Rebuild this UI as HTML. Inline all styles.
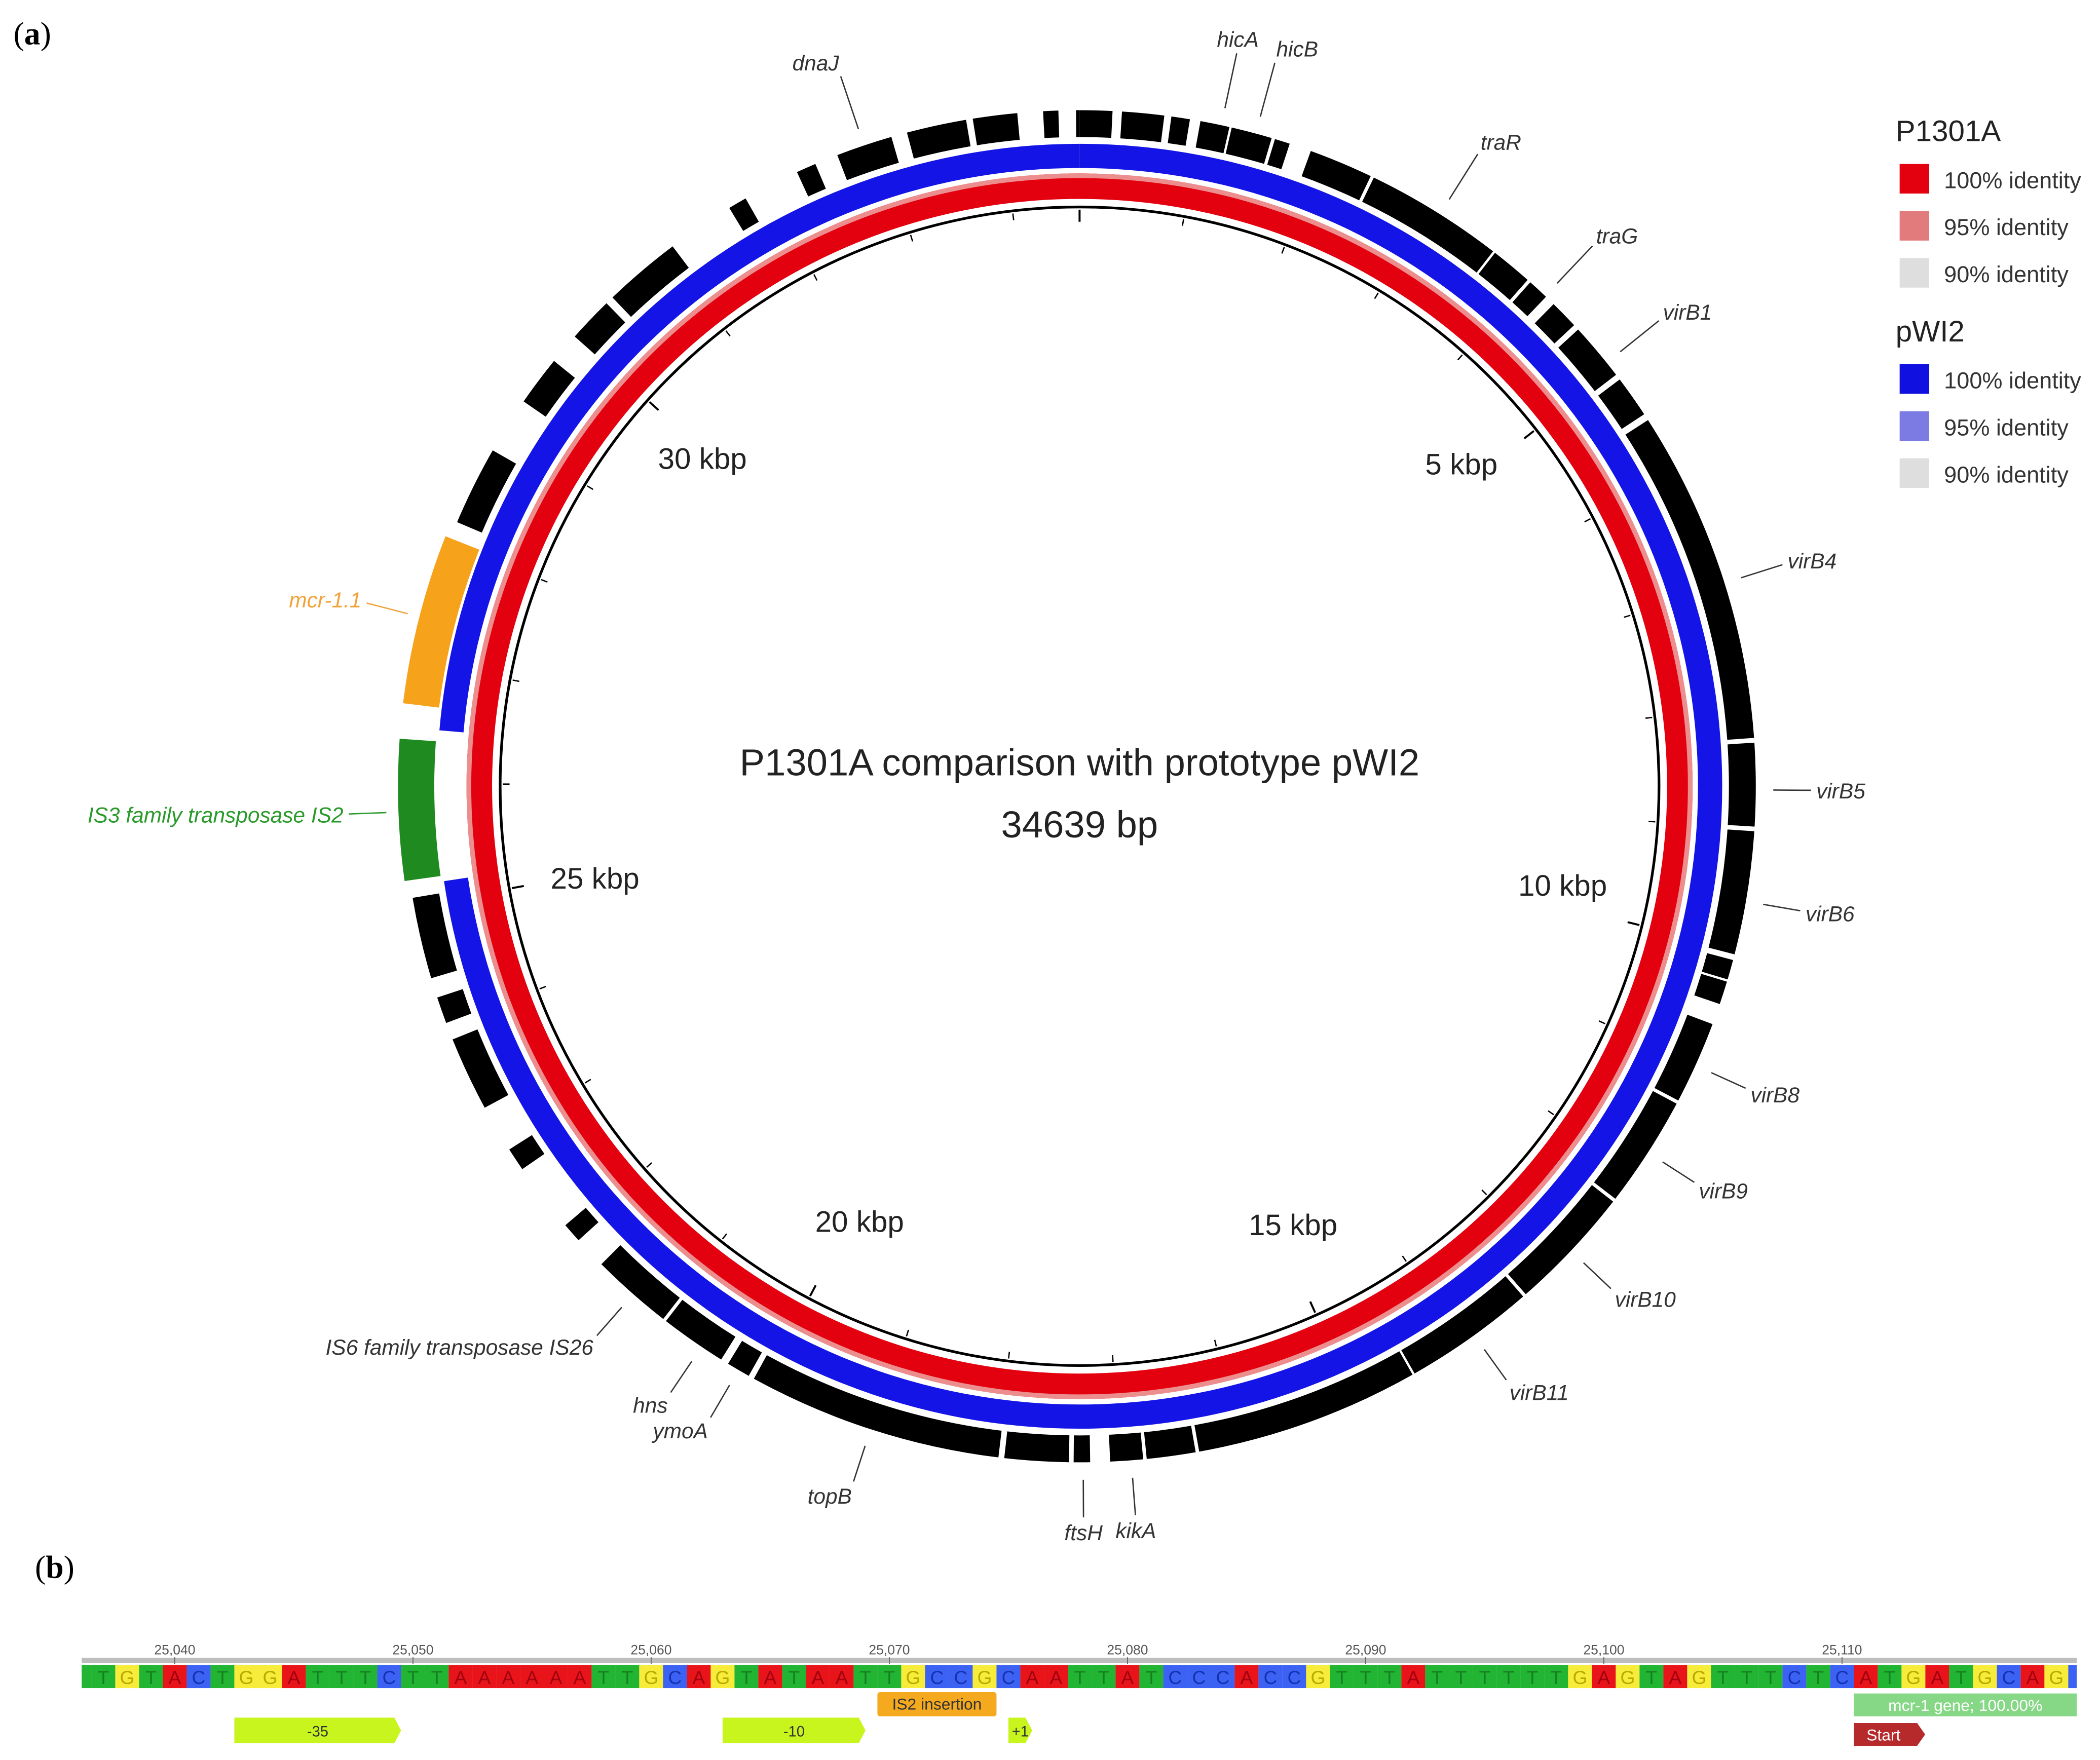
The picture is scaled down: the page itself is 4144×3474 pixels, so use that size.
<!DOCTYPE html>
<html><head><meta charset="utf-8"><style>
html,body{margin:0;padding:0;background:#fff;}
svg{display:block;}
text{font-family:"Liberation Sans",sans-serif;}
</style></head><body>
<svg id="fig" width="4144" height="3474" viewBox="0 0 1562 1309.5" xmlns="http://www.w3.org/2000/svg">
<text x="10" y="33" style="font-family:'Liberation Serif',serif;font-size:24px">(<tspan font-weight="bold">a</tspan>)</text>
<text x="26" y="1174" style="font-family:'Liberation Serif',serif;font-size:24px">(<tspan font-weight="bold">b</tspan>)</text>
<g id="plasmid"></g>
<g id="labels"></g>
<text x="803" y="577" text-anchor="middle" font-size="28" fill="#222">P1301A comparison with prototype pWI2</text>
<text x="803" y="623" text-anchor="middle" font-size="28" fill="#222">34639 bp</text>
<g id="legend">
<text x="1410" y="105" font-size="22" fill="#222">P1301A</text>
<rect x="1413" y="122" width="22" height="22" fill="#e3000f"/>
<text x="1446" y="140" font-size="17" fill="#333">100% identity</text>
<rect x="1413" y="157" width="22" height="22" fill="#e27b7b"/>
<text x="1446" y="175" font-size="17" fill="#333">95% identity</text>
<rect x="1413" y="192" width="22" height="22" fill="#dedede"/>
<text x="1446" y="210" font-size="17" fill="#333">90% identity</text>
<text x="1410" y="254" font-size="22" fill="#222">pWI2</text>
<rect x="1413" y="271" width="22" height="22" fill="#1010e0"/>
<text x="1446" y="289" font-size="17" fill="#333">100% identity</text>
<rect x="1413" y="306" width="22" height="22" fill="#7b7be3"/>
<text x="1446" y="324" font-size="17" fill="#333">95% identity</text>
<rect x="1413" y="341" width="22" height="22" fill="#dedede"/>
<text x="1446" y="359" font-size="17" fill="#333">90% identity</text>
</g>
<g id="seq"></g>
</svg>
<script>
const genomeLength = 34639;
const geneStarts = [0,346,751,991,1251,1616,1924,2482,3647,4022,4282,4570,5100,5504,8304,9027,10093,10276,10642,11354,12307,13375,14481,16368,16800,17233,17406,17983,20138,20399,20976,21920,22660,23247,24007,24392,25210,26653,28192,29318,29992,30435,31637,32262,32619,33216,33764,34341,34610];
const geneEnds =   [269,693,904,1232,1588,1742,2454,3627,3993,4196,4522,5052,5447,8265,8989,10045,10257,10468,11325,12278,13347,14462,16339,16771,17070,17368,17935,20090,20333,20948,21650,22083,22852,23863,24227,25065,26364,28050,28846,29731,30367,31079,31791,32426,33084,33709,34130,34466,34639];
const geneTypes = ['g','g','g','g','g','g','g','g','g','g','g','g','g','g','g','g','g','g','g','g','g','g','g','g','g','g','g','g','g','g','g','g','g','g','g','g','is2','mcr','g','g','g','g','g','g','g','g','g','g','g'];
const redStarts = [0];
const redEnds = [34639];
const blueStarts = [0, 26460];
const blueEnds = [25162, 34639];
const kbpTicks = [5000,10000,15000,20000,25000,30000];
const kbpLabels = ['5 kbp','10 kbp','15 kbp','20 kbp','25 kbp','30 kbp'];
const labelNames = ['dnaJ','hicA','hicB','traR','traG','virB1','virB4','virB5','virB6','virB8','virB9','virB10','virB11','kikA','ftsH','topB','ymoA','hns','IS6 family transposase IS26','IS3 family transposase IS2','mcr-1.1'];
const labelBp = [32850,1164,1453,3098,4186,4927,6976,8690,9603,11007,11816,12836,13885,16898,17290,19052,20235,20590,21293,25770,27366];

const CX=803, CY=585, NS='http://www.w3.org/2000/svg';
function ang(bp){return bp/genomeLength*2*Math.PI;}
function pt(bp,r){const a=ang(bp);return [CX+r*Math.sin(a), CY-r*Math.cos(a)];}
function arcPath(b0,b1,r0,r1){
  const p1=pt(b0,r1),p2=pt(b1,r1),p3=pt(b1,r0),p4=pt(b0,r0);
  const large=(b1-b0)/genomeLength>0.5?1:0;
  return `M${p1[0]},${p1[1]}A${r1},${r1} 0 ${large} 1 ${p2[0]},${p2[1]}L${p3[0]},${p3[1]}A${r0},${r0} 0 ${large} 0 ${p4[0]},${p4[1]}Z`;
}
function mk(tag,attrs,parent){const e=document.createElementNS(NS,tag);for(const k in attrs)e.setAttribute(k,attrs[k]);parent.appendChild(e);return e;}
const G=document.getElementById('plasmid');
let bb=mk('circle',{cx:CX,cy:CY,r:431,fill:'none',stroke:'#000','stroke-width':2},G);


for(let i=0;i<redStarts.length;i++){
  let p=mk('path',{d:arcPath(redStarts[i],redEnds[i]-0.01,437,456),fill:'#e3000f'},G);
  
  
  let q=mk('path',{d:arcPath(redStarts[i],redEnds[i]-0.01,452.5,456),fill:'#ec8e8e'},G);
  
  
}
for(let i=0;i<blueStarts.length;i++){
  let p=mk('path',{d:arcPath(blueStarts[i],blueEnds[i],460,478),fill:'#1414e6'},G);
  
  
}
for(let i=0;i<geneStarts.length;i++){
  const t=geneTypes[i];
  const col=t==='mcr'?'#f7a21b':(t==='is2'?'#1f8a1f':'#000');
  const r0=t==='g'?483:480, r1=t==='g'?503:507;
  let p=mk('path',{d:arcPath(geneStarts[i],geneEnds[i],r0,r1),fill:col},G);
  
  
}
for(let k=1000;k<genomeLength;k+=1000){
  const a=pt(k,429),b=pt(k,424);
  let l=mk('line',{x1:a[0],y1:a[1],x2:b[0],y2:b[1],stroke:'#000','stroke-width':1},G);
  
  
}
let t0=mk('line',{x1:CX,y1:CY-429,x2:CX,y2:CY-420,stroke:'#000','stroke-width':1.5},G);


for(let i=0;i<kbpTicks.length;i++){
  const a=pt(kbpTicks[i],429),b=pt(kbpTicks[i],420);
  let l=mk('line',{x1:a[0],y1:a[1],x2:b[0],y2:b[1],stroke:'#000','stroke-width':1.5},G);
  
  
  const c=pt(kbpTicks[i]-140,368);
  let tx=mk('text',{x:c[0],y:c[1]+2,'text-anchor':'middle','font-size':22,fill:'#222'},G);
  tx.textContent=kbpLabels[i];
  
  
}
const L=document.getElementById('labels');
for(let i=0;i<labelNames.length;i++){
  const cs=Math.cos(ang(labelBp[i]));
  const extra=Math.max(0,cs)*14;
  const a=pt(labelBp[i],516), b=pt(labelBp[i],544+extra), c=pt(labelBp[i],548+extra);
  const name=labelNames[i];
  const col=name==='mcr-1.1'?'#f2a23a':(name.startsWith('IS3')?'#2a9a2a':'#333');
  let l=mk('line',{x1:a[0],y1:a[1],x2:b[0],y2:b[1],stroke:col,'stroke-width':1},L);
  
  
  const s=Math.sin(ang(labelBp[i]));
  const anchor=s>0.25?'start':(s<-0.3?'end':'middle');
  const dy=-cs*7+6;
  let tx=mk('text',{x:c[0],y:c[1]+dy,'text-anchor':anchor,'font-size':16,'font-style':'italic',fill:col},L);
  tx.textContent=name;
  
  
}
const seqStart = 25036;
const bases = 'TTGTACTGGATTTCTTAAAAAATTGCAGTATAATTGCCGCAATTATCCCACCGTTTATTTTTTGAGTAGTTTCTCATGATGCAGC';
const posTicks = [25040,25050,25060,25070,25080,25090,25100,25110];
const featNames = ['-35','-10','+1'];
const featStarts = [25042.5,25063,25075];
const featEnds = [25049.5,25069,25076];
const S=document.getElementById('seq');
const BW=17.716, X40=130.0, BX0=60.7, BX1=1544.7;
function bx(p){return X40+(p-25040)*BW;}
const fill={A:'#e8141a',T:'#22b433',C:'#3b62f2',G:'#f7ec3a'};
const ink={A:'#a00010',T:'#158020',C:'#1530b0',G:'#b8a800'};
let gl=mk('rect',{x:BX0,y:1233.5,width:BX1-BX0,height:4,fill:'#bdbdbd'},S);


for(let i=0;i<bases.length;i++){
  const p=seqStart+i; let x0=bx(p)-BW/2, x1=bx(p)+BW/2;
  x0=Math.max(x0,BX0); x1=Math.min(x1,BX1); if(x1<=x0)continue;
  const b=bases[i];
  let r=mk('rect',{x:x0,y:1239,width:x1-x0,height:17,fill:fill[b]},S);
  
  
  if(x1-x0>10){
    let t=mk('text',{x:(x0+x1)/2,y:1253,'text-anchor':'middle','font-size':14,fill:ink[b]},S);
    t.textContent=b;
    
    
  }
}
for(let i=0;i<posTicks.length;i++){
  const x=bx(posTicks[i]);
  let t=mk('text',{x:x,y:1231,'text-anchor':'middle','font-size':10,fill:'#555'},S);
  t.textContent=posTicks[i].toLocaleString('en-US');
  
  
  let l=mk('line',{x1:x,y1:1233,x2:x,y2:1238,stroke:'#666','stroke-width':0.7},S);
  
  
}
for(let i=0;i<featNames.length;i++){
  const x0=bx(featStarts[i]), x1=bx(featEnds[i]);
  let p=mk('path',{d:`M${x0},1278H${x1-5}L${x1},1287.5L${x1-5},1297H${x0}Z`,fill:'#c8f51e'},S);
  
  
  let t=mk('text',{x:(x0+x1)/2,y:1292,'text-anchor':'middle','font-size':11,fill:'#333'},S);
  t.textContent=featNames[i];
  
  
}
let is2=mk('rect',{x:bx(25069.5),y:1259,width:bx(25074.5)-bx(25069.5),height:18,rx:2,fill:'#f4a91e'},S);


let is2t=mk('text',{x:(bx(25069.5)+bx(25074.5))/2,y:1272,'text-anchor':'middle','font-size':12,fill:'#333'},S);
is2t.textContent='IS2 insertion';


let mcr=mk('rect',{x:bx(25110.5),y:1260,width:BX1-bx(25110.5),height:17,fill:'#86d886'},S);


let mcrt=mk('text',{x:(bx(25110.5)+BX1)/2,y:1273,'text-anchor':'middle','font-size':12,fill:'#fff'},S);
mcrt.textContent='mcr-1 gene; 100.00%';


const sx0=bx(25110.5), sx1=sx0+53;
let st=mk('path',{d:`M${sx0},1282H${sx1-6}L${sx1},1290.5L${sx1-6},1299H${sx0}Z`,fill:'#b62a2c'},S);


let stt=mk('text',{x:sx0+22,y:1295,'text-anchor':'middle','font-size':12,fill:'#fff'},S);
stt.textContent='Start';


</script>
</body></html>
